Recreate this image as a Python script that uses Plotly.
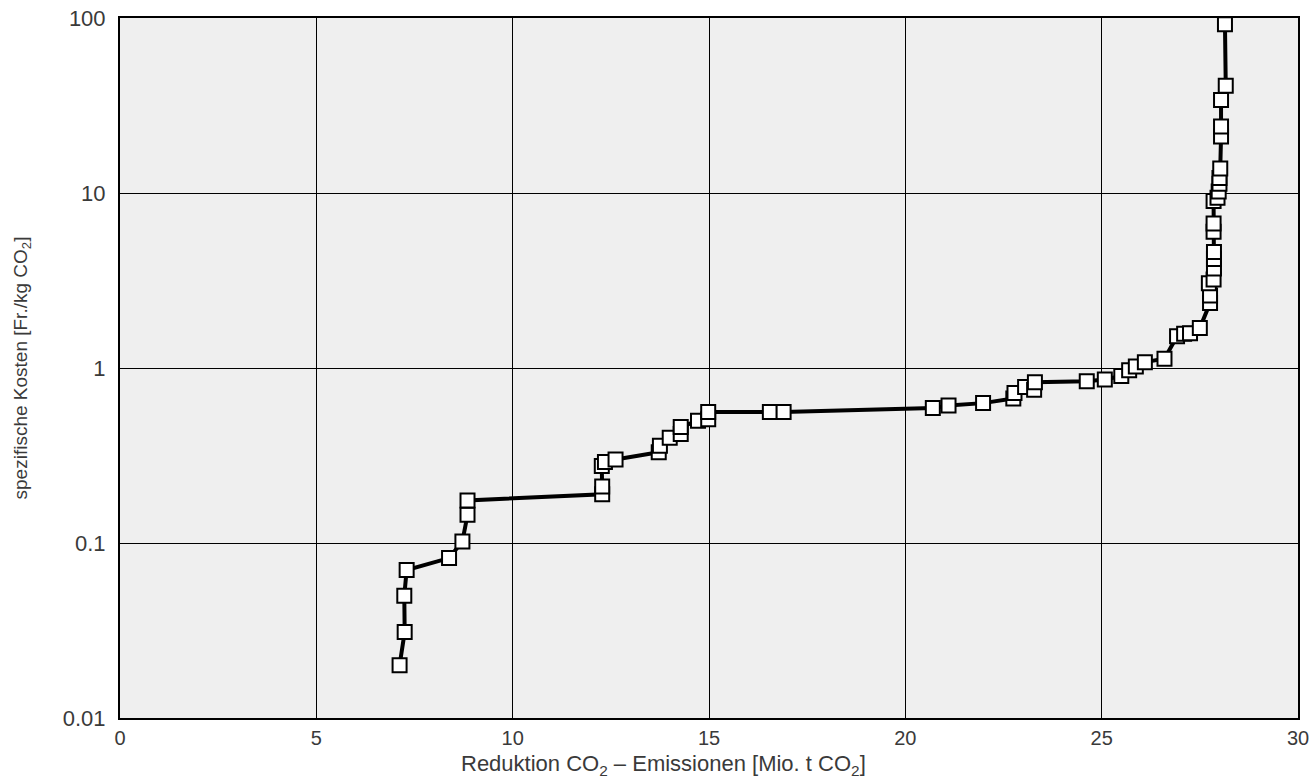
import plotly.graph_objects as go

# Reduction of CO2 emissions [Mio. t CO2] (cumulative) and specific cost [Fr./kg CO2]
reduktion = [
    7.12, 7.25, 7.24, 7.30, 8.38, 8.72, 8.85, 8.85,
    12.28, 12.28, 12.27, 12.35, 12.62, 13.72, 13.75, 14.00, 14.28, 14.28,
    14.72, 14.98, 14.98, 16.55, 16.90, 20.70, 21.10, 21.98, 22.75, 22.78,
    23.05, 23.28, 23.30, 24.62, 25.08, 25.50, 25.70, 25.87, 26.10, 26.60,
    26.92, 27.10, 27.25, 27.50, 27.76, 27.76, 27.73, 27.85, 27.86, 27.86,
    27.86, 27.85, 27.85, 27.85, 27.95, 27.98, 28.00, 28.00, 28.02, 28.04,
    28.04, 28.04, 28.16, 28.14,
]
kosten = [
    0.020, 0.031, 0.050, 0.070, 0.082, 0.102, 0.145, 0.175,
    0.19, 0.21, 0.275, 0.29, 0.30, 0.33, 0.36, 0.40, 0.42, 0.46,
    0.50, 0.51, 0.56, 0.56, 0.56, 0.59, 0.61, 0.63, 0.67, 0.72,
    0.78, 0.75, 0.83, 0.84, 0.86, 0.90, 0.97, 1.02, 1.08, 1.13,
    1.52, 1.57, 1.58, 1.69, 2.35, 2.6, 3.05, 3.2, 3.7, 4.2,
    4.6, 6.0, 6.7, 9.0, 9.4, 10.2, 11.3, 12.2, 13.8, 21,
    24, 34, 41, 92,
]

x_ticks = [0, 5, 10, 15, 20, 25, 30]
y_ticks = [0.01, 0.1, 1, 10, 100]
y_tick_labels = ["0.01", "0.1", "1", "10", "100"]
x_title = "Reduktion CO<sub>2</sub> – Emissionen [Mio. t CO<sub>2</sub>]"
y_title = "spezifische Kosten [Fr./kg CO<sub>2</sub>]"

FONT = "Liberation Sans, Arial, sans-serif"
TXT = "#3a3a3a"

fig = go.Figure()
fig.add_trace(go.Scatter(
    x=reduktion, y=kosten, mode="lines+markers",
    line=dict(color="black", width=4),
    marker=dict(symbol="square", size=14, color="white",
                line=dict(color="black", width=2)),
    showlegend=False, hoverinfo="skip",
))

fig.update_layout(
    width=1311, height=781,
    margin=dict(l=120, r=13, t=18, b=63),
    paper_bgcolor="white",
    plot_bgcolor="#efefef",
    font=dict(family=FONT, size=20, color=TXT),
    xaxis=dict(
        range=[0, 30], tickvals=x_ticks, ticktext=[str(t) for t in x_ticks],
        showgrid=True, gridcolor="black", gridwidth=1,
        showline=True, linecolor="black", linewidth=2, mirror=True,
        zeroline=False, ticks="", automargin=False, ticklabelstandoff=1,
        ticklabeloverflow="allow",
        tickfont=dict(size=20, color=TXT),
    ),
    yaxis=dict(
        type="log", range=[-2, 2], tickvals=y_ticks, ticktext=y_tick_labels,
        showgrid=True, gridcolor="black", gridwidth=1,
        showline=True, linecolor="black", linewidth=2, mirror=True,
        zeroline=False, ticks="", automargin=False, ticklabelstandoff=8,
        ticklabeloverflow="allow",
        title=dict(text=y_title, font=dict(size=19, color=TXT), standoff=30),
        tickfont=dict(size=22, color=TXT),
    ),
    annotations=[dict(
        text=x_title, xref="paper", yref="paper", x=0.461, y=-0.09,
        xanchor="center", yanchor="bottom", showarrow=False,
        font=dict(size=22, color=TXT),
    )],
)

fig.write_html("out.html", post_script="document.body.style.margin='0';",
               config={"displayModeBar": False})
